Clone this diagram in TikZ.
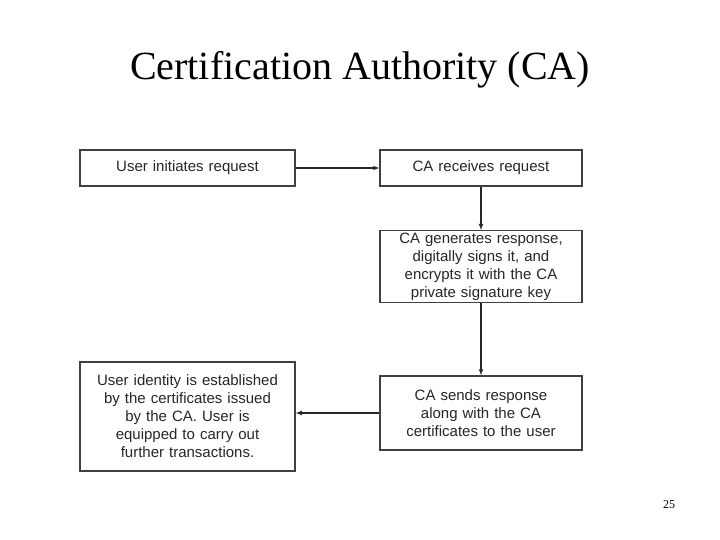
\documentclass[tikz,border=0pt]{standalone}
\usepackage{fontspec}
\setmainfont{Liberation Serif}
\newfontfamily\boxfont{Liberation Sans}
\usetikzlibrary{arrows}
\begin{document}
\begin{tikzpicture}[x=1pt, y=-1pt]
  \tikzstyle{stage} = [draw=black!75, line width=1.3pt, minimum height=36pt,
  text width=196pt, align=center, inner sep=2pt,
  font=\boxfont\fontsize{15}{18}\selectfont, text=black!85]
  \tikzstyle{flow} = [-latex, line width=1.1pt, black!85]

\useasboundingbox (0,0) rectangle (720,540);

\node[font=\fontsize{40}{44}\selectfont] (title) at (360,70) {Certification Authority (CA)};

\node[stage, minimum width=215pt] (user) at (187.5,168) {User initiates request};
\node[stage, minimum width=202pt] (receive) at (481,168) {CA receives request};
\node[stage, minimum width=202pt, minimum height=71pt] (generate) at (481,266.5)
  {CA generates response,\\ digitally signs it, and\\ encrypts it with the CA\\ private signature key};
\node[stage, minimum width=202pt, minimum height=74pt] (send) at (481,413)
  {CA sends response\\ along with the CA\\ certificates to the user};
\node[stage, minimum width=215pt, minimum height=109pt] (established) at (187.5,416.5)
  {User identity is established\\ by the certificates issued\\ by the CA. User is\\ equipped to carry out\\ further transactions.};

\node[font=\fontsize{12}{14}\selectfont] (page) at (669,505) {25};

\draw[flow] (user) -- (receive);
\draw[flow] (receive) -- (generate);
\draw[flow] (generate) -- (send);
\draw[flow] (send.west) -- (send.west -| established.east);

\end{tikzpicture}
\end{document}
